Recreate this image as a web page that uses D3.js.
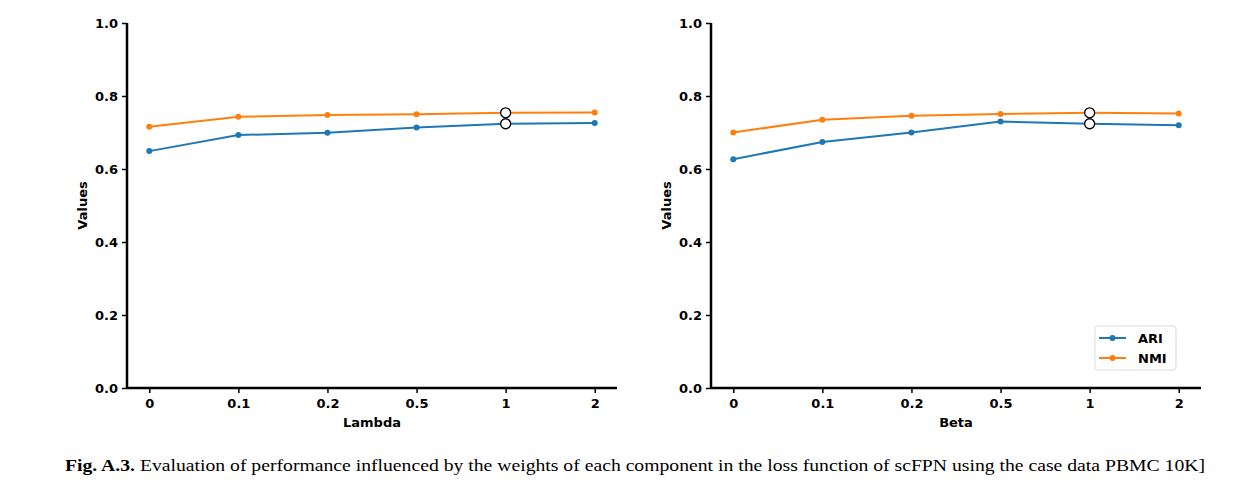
<!DOCTYPE html>
<html>
<head>
<meta charset="utf-8">
<script src="https://cdn.jsdelivr.net/npm/d3@7"></script>
<style>
  body { margin: 0; background: #fff; }
  .tick text { font-family: 'DejaVu Sans', sans-serif; font-weight: bold; font-size: 13px; fill: #000; }
  .axis-label { font-family: 'DejaVu Sans', sans-serif; font-weight: bold; font-size: 13px; }
  .legend text { font-family: 'DejaVu Sans', sans-serif; font-weight: bold; font-size: 13px; }
  .caption { font-family: 'Liberation Serif', serif; font-size: 16px; }
</style>
</head>
<body>
<svg id="chart" width="1260" height="496"></svg>
<script>
const categories = ['0', '0.1', '0.2', '0.5', '1', '2'];
const lambdaARI = [0.649, 0.693, 0.699, 0.714, 0.724, 0.726];
const lambdaNMI = [0.716, 0.743, 0.748, 0.750, 0.754, 0.755];
const betaARI = [0.627, 0.674, 0.700, 0.730, 0.724, 0.720];
const betaNMI = [0.700, 0.735, 0.746, 0.751, 0.754, 0.752];
const yTicks = [0, 0.2, 0.4, 0.6, 0.8, 1.0];
const bestIndex = 4;
const seriesNames = ['ARI', 'NMI'];
const colors = ['#1f77b4', '#ff7f0e'];

const svg = d3.select('#chart');

function drawPanel(left, xLabel, ari, nmi, showLegend) {
  const width = 490, top = 23, bottom = 388;
  const g = svg.append('g').attr('transform', 'translate(' + left + ',0)');

  let x = d3.scalePoint()
    .domain(categories)
    .range([0, width])
    .padding(0.25);

  let y = d3.scaleLinear()
    .domain([0, 1])
    .range([bottom, top]);

  let x_axis = d3.axisBottom(x).tickSize(5).tickPadding(6);
  let y_axis = d3.axisLeft(y).tickValues(yTicks).tickFormat(d3.format('.1f')).tickSize(5).tickPadding(4);

  let gx = g.append('g')
    .attr('class', 'x axis')
    .attr('transform', 'translate(0,' + bottom + ')')
    .call(x_axis);
  let gy = g.append('g')
    .attr('class', 'y axis')
    .call(y_axis);
  [gx, gy].forEach(function(a) {
    a.select('.domain').attr('stroke', '#000').attr('stroke-width', 2.5);
    a.selectAll('.tick line').attr('stroke', '#000').attr('stroke-width', 1.5);
  });
  gx.select('.domain').attr('d', 'M0,0H' + width);
  gy.select('.domain').attr('d', 'M0,' + bottom + 'V' + top);

  g.append('text')
    .attr('class', 'axis-label')
    .attr('x', width / 2)
    .attr('y', 427)
    .attr('text-anchor', 'middle')
    .text(xLabel);

  g.append('text')
    .attr('class', 'axis-label')
    .attr('transform', 'translate(-40,' + ((top + bottom) / 2) + ') rotate(-90)')
    .attr('text-anchor', 'middle')
    .text('Values');

  let line = d3.line()
    .x(function(d, i) { return x(categories[i]); })
    .y(function(d) { return y(d); });

  [ari, nmi].forEach(function(vals, s) {
    g.append('path')
      .datum(vals)
      .attr('fill', 'none')
      .attr('stroke', colors[s])
      .attr('stroke-width', 2)
      .attr('d', line);
    g.selectAll('.dot' + s)
      .data(vals)
      .enter().append('circle')
      .attr('cx', function(d, i) { return x(categories[i]); })
      .attr('cy', function(d) { return y(d); })
      .attr('r', 3)
      .attr('fill', colors[s]);
    g.append('circle')
      .attr('cx', x(categories[bestIndex]))
      .attr('cy', y(vals[bestIndex]))
      .attr('r', 5)
      .attr('fill', '#fff')
      .attr('stroke', '#000')
      .attr('stroke-width', 1.3);
  });

  if (showLegend) {
    let lg = g.append('g')
      .attr('class', 'legend')
      .attr('transform', 'translate(' + (width - 106) + ',326)');
    lg.append('rect')
      .attr('width', 81)
      .attr('height', 44)
      .attr('rx', 3)
      .attr('fill', '#fff')
      .attr('stroke', '#ddd');
    seriesNames.forEach(function(name, s) {
      let yy = 12 + s * 20;
      lg.append('line')
        .attr('x1', 4).attr('x2', 31)
        .attr('y1', yy).attr('y2', yy)
        .attr('stroke', colors[s]).attr('stroke-width', 2);
      lg.append('circle')
        .attr('cx', 17.5).attr('cy', yy).attr('r', 3)
        .attr('fill', colors[s]);
      lg.append('text')
        .attr('x', 43).attr('y', yy + 5)
        .text(name);
    });
  }
}

drawPanel(127, 'Lambda', lambdaARI, lambdaNMI, false);
drawPanel(711, 'Beta', betaARI, betaNMI, true);

let cap = svg.append('text')
  .attr('class', 'caption')
  .attr('x', 65)
  .attr('y', 471)
  .attr('textLength', 1140)
  .attr('lengthAdjust', 'spacingAndGlyphs');
cap.append('tspan').attr('font-weight', 'bold').text('Fig. A.3.');
cap.append('tspan').text('  Evaluation of performance influenced by the weights of each component in the loss function of scFPN using the case data PBMC 10K]');
</script>
</body>
</html>
